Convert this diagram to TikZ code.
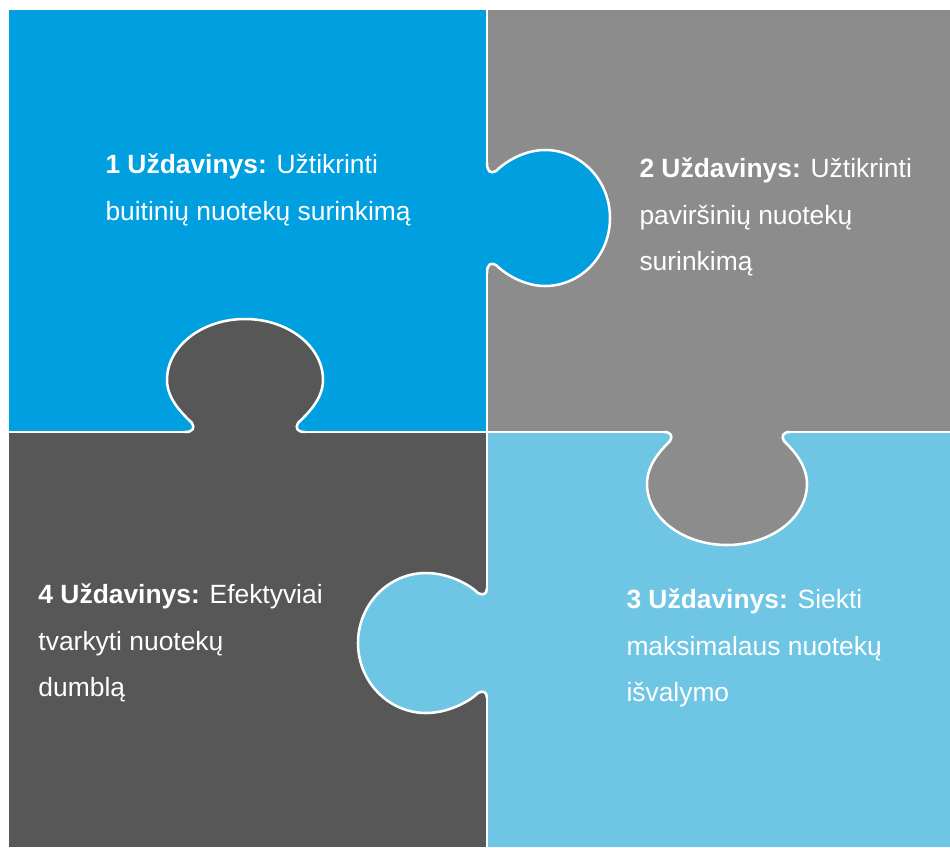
\documentclass[tikz,border=0pt]{standalone}
\usepackage{fontspec}
\setmainfont{Liberation Sans}

\definecolor{pieceBlue}{RGB}{0,159,223}
\definecolor{pieceGray}{RGB}{140,140,140}
\definecolor{pieceDark}{RGB}{87,87,87}
\definecolor{pieceLight}{RGB}{110,197,228}

\tikzset{every picture/.style={line width=0.75pt}}
\tikzset{
  seam/.style={draw=white, line width=1.9pt, line cap=round},
  knob/.style={draw=white, line width=1.9pt, line cap=round, line join=round},
  tasktext/.style={anchor=north west, inner sep=0pt, align=left, text=white,
    font=\fontsize{19.8}{34.9}\selectfont}
}

\begin{document}
\begin{tikzpicture}[x=0.75pt,y=0.75pt,yscale=-1,xscale=1]
\useasboundingbox (0,0) rectangle (950,847);

%Shape: Rectangle [id:piece1]
\fill [pieceBlue] (9,10) rectangle (487,432) ;
%Shape: Rectangle [id:piece2]
\fill [pieceGray] (487,10) rectangle (950,432) ;
%Shape: Rectangle [id:piece4]
\fill [pieceDark] (9,432) rectangle (487,847) ;
%Shape: Rectangle [id:piece3]
\fill [pieceLight] (487,432) rectangle (950,847) ;

%Shape: Knob 1 -> 2
\draw [knob, fill=pieceBlue] (487,163) .. controls (487,172) and (491,174) .. (496,171) .. controls (504,163) and (523,150) .. (545,150) .. controls (581,150) and (610,180.5) .. (610,218) .. controls (610,255.5) and (581,286) .. (545,286) .. controls (523,286) and (504,273) .. (496,265) .. controls (491,262) and (487,264) .. (487,273) ;
%Shape: Knob 4 -> 1
\draw [knob, fill=pieceDark] (185,432) .. controls (193,432) and (195,428) .. (192,423) .. controls (184,415) and (167,400) .. (167,380) .. controls (167,346.3) and (202,319) .. (245,319) .. controls (288,319) and (323,346.3) .. (323,380) .. controls (323,400) and (306,415) .. (298,423) .. controls (295,428) and (297,432) .. (305,432) ;
%Shape: Knob 2 -> 3
\draw [knob, fill=pieceGray] (664,432) .. controls (671,432) and (673,436) .. (670,441) .. controls (662,449) and (647,464) .. (647,484) .. controls (647,517.7) and (683,545) .. (727,545) .. controls (771,545) and (807,517.7) .. (807,484) .. controls (807,464) and (792,449) .. (784,441) .. controls (781,436) and (783,432) .. (790,432) ;
%Shape: Knob 3 -> 4
\draw [knob, fill=pieceLight] (487,588) .. controls (487,594) and (483,596) .. (478,593) .. controls (470,585) and (449,573) .. (426,573) .. controls (388.5,573) and (358,604.4) .. (358,643) .. controls (358,681.6) and (388.5,713) .. (426,713) .. controls (449,713) and (470,701) .. (478,693) .. controls (483,690) and (487,692) .. (487,698) ;

%Straight Lines [id:seams]
\draw [seam] (487,10) -- (487,163) (487,273) -- (487,588) (487,698) -- (487,847) ;
\draw [seam] (9,432) -- (185,432) (305,432) -- (664,432) (790,432) -- (950,432) ;

% Text Node
\node [tasktext] (uzd1) at (105,153.7) {\textbf{1 Uždavinys:} Užtikrinti\\buitinių nuotekų surinkimą};
% Text Node
\node [tasktext] (uzd2) at (639,157.7) {\textbf{2 Uždavinys:} Užtikrinti\\paviršinių nuotekų\\surinkimą};
% Text Node
\node [tasktext] (uzd3) at (626,588.7) {\textbf{3 Uždavinys:} Siekti\\maksimalaus nuotekų\\išvalymo};
% Text Node
\node [tasktext] (uzd4) at (38,583.7) {\textbf{4 Uždavinys:} Efektyviai\\tvarkyti nuotekų\\dumblą};

\end{tikzpicture}
\end{document}
